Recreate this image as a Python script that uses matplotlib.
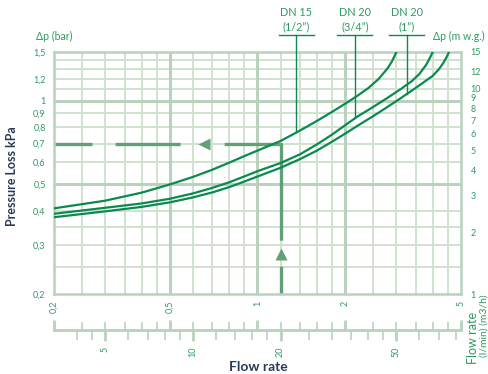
import numpy as np
import matplotlib
matplotlib.use('Agg')
import matplotlib.pyplot as plt
from matplotlib.ticker import NullFormatter, NullLocator

plt.rcParams['font.family'] = ['Lato', 'DejaVu Sans']
plt.rcParams['lines.scale_dashes'] = False

# flow rate (m3/h) vs pressure loss (bar)
q_dn15 = [0.2, 0.3, 0.4, 0.5, 0.6, 0.7, 0.8, 0.9, 1.0, 1.2, 1.4, 1.6, 1.8,
          2.0, 2.2, 2.4, 2.6, 2.8, 2.9, 3.0]
dp_dn15 = [0.408, 0.435, 0.465, 0.498, 0.530, 0.563, 0.597, 0.630, 0.660, 0.715, 0.78,
           0.845, 0.91, 0.975, 1.04, 1.11, 1.195, 1.31, 1.39, 1.5]
q_dn20a = [0.2, 0.3, 0.4, 0.5, 0.6, 0.7, 0.8, 0.9, 1.0, 1.2, 1.4, 1.6, 1.8,
           2.0, 2.2, 2.5, 2.8, 3.1, 3.4, 3.6, 3.8, 3.9, 4.0]
dp_dn20a = [0.39, 0.41, 0.425, 0.442, 0.462, 0.484, 0.507, 0.532, 0.556, 0.595, 0.64,
            0.695, 0.753, 0.815, 0.875, 0.95, 1.025, 1.10, 1.18, 1.25, 1.35, 1.42, 1.5]
q_dn20b = [0.2, 0.3, 0.4, 0.5, 0.6, 0.7, 0.8, 0.9, 1.0, 1.2, 1.4, 1.6, 1.8,
           2.0, 2.2, 2.5, 2.8, 3.1, 3.4, 3.7, 4.0, 4.2, 4.35, 4.45, 4.55]
dp_dn20b = [0.379, 0.398, 0.413, 0.429, 0.447, 0.466, 0.487, 0.51, 0.532, 0.572, 0.615,
            0.66, 0.71, 0.76, 0.81, 0.88, 0.95, 1.02, 1.09, 1.16, 1.23, 1.30, 1.37, 1.43, 1.5]

dn_labels = ['DN 15\n(1/2\u201d)', 'DN 20\n(3/4\u201d)', 'DN 20\n(1\u201d)']
dn_q = [1.36, 2.16, 3.26]

# worked example: 1.2 m3/h -> 0.7 bar
ex_q = 1.2
ex_dp = 0.7

x_major = [0.2, 0.5, 1, 2, 5]
x_major_labels = ['0,2', '0,5', '1', '2', '5']
x_minor = [0.25, 0.3, 0.35, 0.4, 0.45, 0.6, 0.7, 0.8, 0.9,
           1.2, 1.4, 1.6, 1.8, 2.5, 3, 3.5, 4, 4.5]
x_bold = [0.5, 1, 2]

y_ticks = [0.2, 0.3, 0.4, 0.5, 0.6, 0.7, 0.8, 0.9, 1, 1.2, 1.5]
y_tick_labels = ['0,2', '0,3', '0,4', '0,5', '0,6', '0,7', '0,8', '0,9', '1', '1,2', '1,5']
y_minor = [0.25, 0.3, 0.35, 0.4, 0.6, 0.7, 0.8, 0.9, 1.1, 1.2, 1.3, 1.4]
y_bold = [0.5, 1]

mwg_ticks = [1, 2, 3, 4, 5, 6, 7, 8, 9, 10, 12, 15]

lmin_major = [5, 10, 20, 50]
lmin_minor = [4, 4.5, 6, 7, 8, 9, 12, 14, 16, 18, 25, 30, 35, 40, 45, 60, 70, 80]

curve_c = '#0b8a4f'
guide_c = '#62a078'
grid_c = '#d0e2d0'
grid_bold = '#b9d2bc'
text_c = '#2f9a62'
navy = '#2b3a55'

fig = plt.figure(figsize=(4.89, 3.74), dpi=100)
ax = fig.add_axes([0.1104, 0.2139, 0.8323, 0.6471])
ax.set_xscale('log')
ax.set_yscale('log')
ax.set_xlim(0.2, 5)
ax.set_ylim(0.2, 1.5)

for q in x_minor:
    ax.axvline(q, color=grid_c, lw=1.4, zorder=0)
for p in y_minor:
    ax.axhline(p, color=grid_c, lw=1.4, zorder=0)
for q in x_bold:
    ax.axvline(q, color=grid_bold, lw=2.1, zorder=0)
for p in y_bold:
    ax.axhline(p, color=grid_bold, lw=2.1, zorder=0)

for s in ax.spines.values():
    s.set_color(grid_bold)
    s.set_linewidth(1.8)

ax.set_xticks(x_major, x_major_labels)
ax.set_xticks([], minor=True)
ax.xaxis.set_minor_formatter(NullFormatter())
ax.set_yticks(y_ticks, y_tick_labels)
ax.yaxis.set_minor_locator(NullLocator())
ax.tick_params(axis='x', which='both', length=0, pad=5, labelrotation=90,
               labelsize=6.5, labelcolor=text_c)
ax.tick_params(axis='y', which='both', length=0, pad=6, labelsize=6.5, labelcolor=text_c)

# example reading (dashed guide with arrows)
ax.plot([0.2, ex_q, ex_q], [ex_dp, ex_dp, 0.2], color=guide_c, lw=2.4,
        linestyle=(0, (27.4, 16.6, 46.8, 31.7, 110.2, 18.7, 60)), zorder=2,
        solid_capstyle='butt', dash_capstyle='butt')
ax.plot([0.655], [ex_dp], marker='<', ms=8.5, color=guide_c, mec='none', zorder=2)
ax.plot([ex_q], [0.278], marker='^', ms=8.5, color=guide_c, mec='none', zorder=2)

curves = [(q_dn15, dp_dn15), (q_dn20a, dp_dn20a), (q_dn20b, dp_dn20b)]
for q, dp in curves:
    ax.plot(q, dp, color=curve_c, lw=1.6, zorder=3, solid_joinstyle='round')

# DN leader lines and labels
top_p = 1.726
for lab, qd, (q, dp) in zip(dn_labels, dn_q, curves):
    p_end = 10 ** np.interp(np.log10(qd), np.log10(q), np.log10(dp))
    ax.plot([qd, qd], [top_p, p_end], color=curve_c, lw=1.0, clip_on=False, zorder=3)
    ax.plot([qd / 1.148, qd * 1.148], [top_p, top_p], color=curve_c, lw=1.0,
            clip_on=False, zorder=3)
    ax.text(qd, 1.134, lab, transform=ax.get_xaxis_transform(), ha='center', va='center',
            fontsize=7.8, color=text_c, linespacing=1.4)

# right axis in m water gauge
ax2 = ax.twinx()
ax2.set_yscale('log')
ax2.set_ylim(1, 15)
ax2.set_yticks(mwg_ticks, [str(t) for t in mwg_ticks])
ax2.yaxis.set_minor_locator(NullLocator())
ax2.tick_params(axis='y', length=0, pad=7, labelsize=6.5, labelcolor=text_c)
for s in ax2.spines.values():
    s.set_visible(False)

# second flow scale in l/min
sec = ax.secondary_xaxis(-0.149, functions=(lambda x: x * 1000 / 60, lambda x: x * 60 / 1000))
sec.set_xticks(lmin_major, [str(t) for t in lmin_major])
sec.set_xticks(lmin_minor, minor=True)
sec.xaxis.set_minor_formatter(NullFormatter())
sec.tick_params(which='major', direction='out', length=8, width=2, color=grid_bold, pad=4,
                labelrotation=90, labelsize=6.5, labelcolor=text_c)
sec.tick_params(which='minor', direction='out', length=7, width=1.2, color=grid_bold)
sec.spines['bottom'].set_color(grid_bold)
sec.spines['bottom'].set_linewidth(2)

sec2 = ax.secondary_xaxis(-0.149)
sec2.set_xticks(x_major)
sec2.set_xticks(x_minor, minor=True)
sec2.xaxis.set_major_formatter(NullFormatter())
sec2.xaxis.set_minor_formatter(NullFormatter())
sec2.tick_params(which='major', direction='in', length=7, width=2, color=grid_bold)
sec2.tick_params(which='minor', direction='in', length=6, width=1.2, color=grid_bold)
sec2.spines['bottom'].set_visible(False)

# axis titles
ax.text(0.0, 1.066, '\u0394p (bar)', transform=ax.transAxes, ha='center', va='center',
        fontsize=7.6, color=text_c)
ax.text(0.932, 1.066, '\u0394p (m w.g.)', transform=ax.transAxes, ha='left', va='center',
        fontsize=7.6, color=text_c)
fig.text(0.0245, 0.529, 'Pressure Loss kPa', rotation=90, ha='center', va='center',
         fontsize=9, fontweight='bold', color=navy)
fig.text(0.5276, 0.0187, 'Flow rate', ha='center', va='center',
         fontsize=10, fontweight='bold', color=navy)
fig.text(0.967, 0.0976, 'Flow rate', rotation=90, ha='center', va='center',
         fontsize=9, color=text_c)
fig.text(0.9898, 0.128, '(l/min) (m3/h)', rotation=90, ha='center', va='center',
         fontsize=7.5, color=text_c)

fig.savefig('out.png', dpi=100, facecolor='white')
